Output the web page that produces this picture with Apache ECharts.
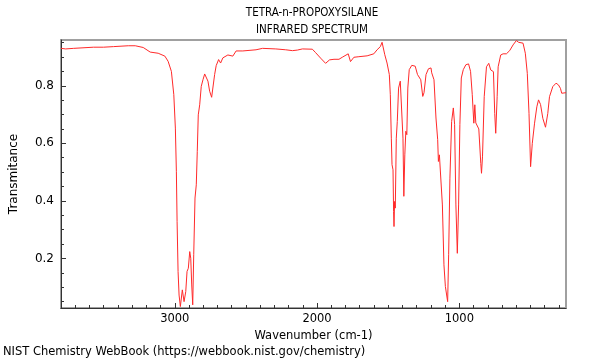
<!DOCTYPE html>
<html><head><meta charset="utf-8">
<script src="https://cdn.jsdelivr.net/npm/echarts@6/dist/echarts.min.js"></script>
<style>html,body{margin:0;padding:0;background:#fff}#c{width:600px;height:360px}</style>
</head><body><div id="c"></div>
<script>
const titleLines = ['TETRA-n-PROPOXYSILANE', 'INFRARED SPECTRUM'];
const xAxisName = 'Wavenumber (cm-1)';
const yAxisName = 'Transmitance';
const footer = 'NIST Chemistry WebBook (https://webbook.nist.gov/chemistry)';

const wavenumbers = [
  3800, 3767, 3711, 3571, 3501, 3431, 3327, 3278, 3222, 3173, 3117, 3070, 3047, 3024, 3007,
  2996, 2989, 2984, 2977, 2970, 2961, 2947, 2935, 2923, 2914, 2905, 2895, 2888, 2881, 2874,
  2867, 2858, 2849, 2842, 2835, 2825, 2814, 2802, 2790, 2779, 2767, 2755, 2741, 2732, 2720,
  2709, 2692, 2678, 2662, 2627, 2592, 2569, 2522, 2429, 2383, 2290, 2220, 2173, 2138, 2103,
  2033, 2010, 1975, 1940, 1912, 1881, 1846, 1823, 1781, 1765, 1741, 1706, 1648, 1601, 1578,
  1555, 1543, 1524, 1508, 1492, 1485, 1478, 1473, 1466, 1462, 1459, 1455, 1450, 1443, 1436,
  1427, 1415, 1403, 1396, 1390, 1383, 1376, 1369, 1362, 1352, 1334, 1310, 1294, 1283, 1271,
  1264, 1257, 1248, 1234, 1217, 1199, 1194, 1178, 1164, 1152, 1147, 1140, 1131, 1119, 1108,
  1098, 1089, 1082, 1075, 1066, 1054, 1042, 1033, 1024, 1014, 1005, 996, 986, 972, 954,
  935, 921, 909, 898, 891, 884, 872, 863, 849, 844, 837, 825, 809, 793, 779,
  769, 760, 751, 744, 734, 727, 709, 692, 669, 646, 622, 599, 583, 569, 552,
  536, 522, 510, 499, 487, 471, 455, 443, 429, 413, 394, 378, 366, 343, 320,
  303, 289, 280, 266, 250
];
const transmittance = [
  0.930, 0.928, 0.930, 0.934, 0.934, 0.936, 0.939, 0.939, 0.933, 0.917, 0.913, 0.903, 0.885, 0.850, 0.769,
  0.653, 0.503, 0.329, 0.155, 0.073, 0.033, 0.091, 0.050, 0.085, 0.155, 0.166, 0.224, 0.201, 0.108, 0.039,
  0.213, 0.410, 0.456, 0.572, 0.699, 0.734, 0.798, 0.821, 0.841, 0.845, 0.816, 0.781, 0.760, 0.763, 0.839,
  0.870, 0.891, 0.879, 0.897, 0.907, 0.903, 0.921, 0.921, 0.925, 0.930, 0.928, 0.925, 0.922, 0.924, 0.928,
  0.927, 0.915, 0.896, 0.878, 0.890, 0.892, 0.892, 0.899, 0.911, 0.884, 0.899, 0.901, 0.904, 0.911, 0.925,
  0.936, 0.951, 0.908, 0.879, 0.839, 0.769, 0.618, 0.526, 0.508, 0.363, 0.311, 0.398, 0.375, 0.618, 0.676,
  0.792, 0.816, 0.810, 0.618, 0.416, 0.560, 0.642, 0.630, 0.792, 0.856, 0.871, 0.868, 0.839, 0.841, 0.821,
  0.825, 0.763, 0.776, 0.839, 0.859, 0.862, 0.845, 0.821, 0.688, 0.613, 0.537, 0.560, 0.560, 0.386, 0.178,
  0.103, 0.103, 0.050, 0.213, 0.479, 0.676, 0.723, 0.665, 0.386, 0.218, 0.386, 0.665, 0.827, 0.856, 0.873,
  0.876, 0.850, 0.769, 0.670, 0.734, 0.671, 0.675, 0.650, 0.530, 0.496, 0.553, 0.762, 0.866, 0.878, 0.855,
  0.861, 0.849, 0.704, 0.635, 0.762, 0.866, 0.907, 0.911, 0.911, 0.922, 0.942, 0.957, 0.951, 0.956, 0.948,
  0.913, 0.843, 0.704, 0.519, 0.600, 0.670, 0.727, 0.751, 0.735, 0.687, 0.656, 0.704, 0.762, 0.797, 0.809,
  0.803, 0.791, 0.774, 0.777, 0.776
];
const xMajorTicks = [1000, 2000, 3000];
const yMajorTicks = [0.2, 0.4, 0.6, 0.8];
const xRange = [250, 3800];
const yRange = [0.028, 0.959];

const xMinorTicks = [];
for (let v = 300; v <= 3800; v += 100) xMinorTicks.push(v);
const yMinorTicks = [];
for (let k = 1; k <= 19; k++) yMinorTicks.push(+(k * 0.05).toFixed(2));

const chart = echarts.init(document.getElementById('c'), null, {renderer: 'canvas'});
const font = 'DejaVu Sans';
const titleFont = '"Liberation Sans Narrow", "DejaVu Sans Condensed", "DejaVu Sans"';
const axisDark = '#333';
const grid = {left: 57, right: 34, top: 40, bottom: 52, show: true, borderColor: '#a0a0a0', borderWidth: 2, containLabel: false};

chart.setOption({
  animation: false,
  backgroundColor: '#fff',
  textStyle: {fontFamily: font},
  title: [{
    text: titleLines.join('\n'),
    left: 312, top: 5, textAlign: 'center', padding: 0,
    textStyle: {fontFamily: titleFont, fontSize: 11.5, fontWeight: 'normal', color: '#000', lineHeight: 17}
  }, {
    text: footer,
    left: 3, top: 346, padding: 0,
    textStyle: {fontFamily: font, fontSize: 11.5, fontWeight: 'normal', color: '#000'}
  }],
  grid: grid,
  xAxis: [{
    type: 'value', inverse: true, min: xRange[0], max: xRange[1],
    name: xAxisName, nameLocation: 'middle', nameGap: 19,
    nameTextStyle: {fontFamily: font, fontSize: 11.5, color: '#000'},
    axisLine: {show: true, lineStyle: {color: axisDark, width: 1}},
    axisTick: {show: true, inside: true, length: 5, customValues: xMajorTicks, lineStyle: {color: axisDark}},
    axisLabel: {customValues: xMajorTicks, fontFamily: font, fontSize: 11.5, color: '#000', margin: 5,
      formatter: v => String(v)},
    splitLine: {show: false}
  }, {
    type: 'value', inverse: true, min: xRange[0], max: xRange[1], position: 'bottom', offset: 0,
    axisLine: {show: false},
    axisTick: {show: true, inside: true, length: 3, customValues: xMinorTicks, lineStyle: {color: axisDark}},
    axisLabel: {show: false},
    splitLine: {show: false}
  }],
  yAxis: [{
    type: 'value', min: yRange[0], max: yRange[1],
    name: yAxisName, nameLocation: 'middle', nameGap: 41, nameRotate: 90,
    nameTextStyle: {fontFamily: font, fontSize: 12, color: '#000'},
    axisLine: {show: true, lineStyle: {color: axisDark, width: 1}},
    axisTick: {show: true, inside: true, length: 5, customValues: yMajorTicks, lineStyle: {color: axisDark}},
    axisLabel: {customValues: yMajorTicks, fontFamily: font, fontSize: 12, color: '#000', margin: 7,
      formatter: v => v.toFixed(1)},
    splitLine: {show: false}
  }, {
    type: 'value', min: yRange[0], max: yRange[1], position: 'left', offset: 0,
    axisLine: {show: false},
    axisTick: {show: true, inside: true, length: 3, customValues: yMinorTicks, lineStyle: {color: axisDark}},
    axisLabel: {show: false},
    splitLine: {show: false}
  }],
  series: [{
    type: 'line',
    xAxisIndex: 0, yAxisIndex: 0,
    data: wavenumbers.map((w, i) => [w, transmittance[i]]),
    showSymbol: false, symbol: 'none', clip: true,
    lineStyle: {color: '#ff2a2a', width: 1},
    smooth: false
  }]
});
</script></body></html>
